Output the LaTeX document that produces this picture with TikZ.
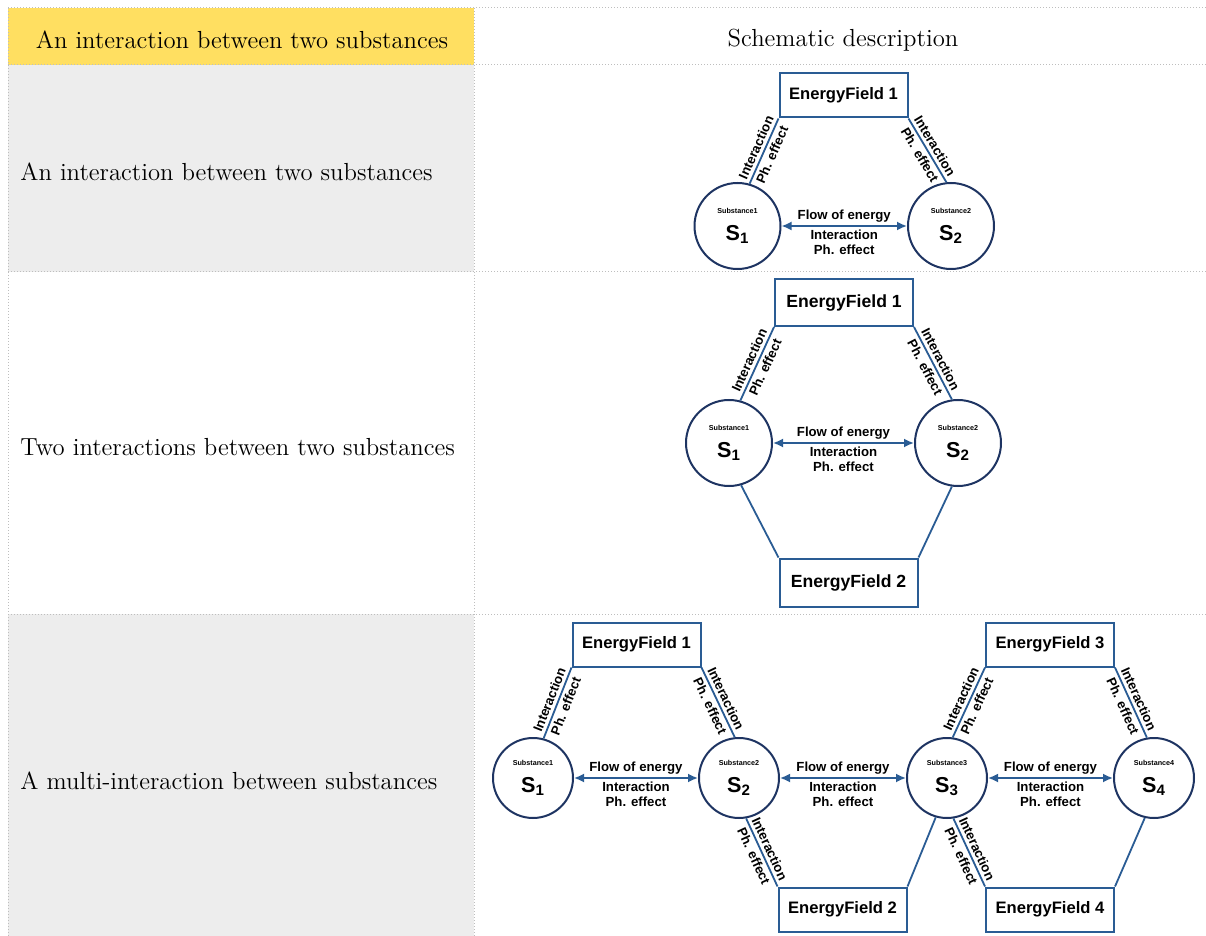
\documentclass[tikz,border=0pt]{standalone}
\usepackage{fontspec}
\usepackage{tikz}
\usetikzlibrary{arrows.meta}
\usetikzlibrary{positioning}
\newfontfamily\diagfont{Liberation Sans}
\definecolor{efblue}{RGB}{42,92,148}
\definecolor{subblue}{RGB}{30,52,98}
\definecolor{headyellow}{RGB}{255,223,97}
\definecolor{rowgray}{RGB}{237,237,237}
\definecolor{rulegray}{RGB}{190,190,190}

\tikzset{
	efbox/.style={draw=efblue, line width=1pt, fill=white, inner sep=0pt,
		minimum width=64pt, minimum height=22pt,
		font=\diagfont\bfseries\fontsize{8.3}{9}\selectfont},
	subst/.style={circle, draw=subblue, line width=1pt, fill=white, inner sep=0pt,
		minimum size=#1, align=center},
	conn/.style={draw=efblue, line width=0.9pt},
	flow/.style={draw=efblue, line width=0.9pt, {Latex[length=5pt,width=4.5pt]}-{Latex[length=5pt,width=4.5pt]}},
	lab/.style={font=\diagfont\bfseries\fontsize{6.6}{7.4}\selectfont, inner sep=1.5pt, align=center},
	celltext/.style={font=\fontsize{12.35}{14}\selectfont, inner sep=0pt},
	gridline/.style={rulegray, line width=0.5pt, densely dotted}
}
\newcommand{\subsname}[1]{{\fontsize{3.6}{4}\selectfont Substance#1}\\[1.5pt]{\fontsize{10.8}{11}\selectfont S\textsubscript{#1}}}

\begin{document}
\begin{tikzpicture}[x=0.5pt, y=-0.5pt, >=Latex]
			\useasboundingbox (0,0) rectangle (1206,936);
			
			% table cells
			\fill[headyellow] (8,8) rectangle (474,65);
			\fill[rowgray] (8,65) rectangle (474,272);
			\fill[rowgray] (8,614) rectangle (474,936);
			
			\draw[gridline] (8,8) -- (1206,8);
			\draw[gridline] (8,65) -- (1206,65);
			\draw[gridline] (8,272) -- (1206,272);
			\draw[gridline] (8,614) -- (1206,614);
			\draw[gridline] (8,8) -- (8,936);
			\draw[gridline] (474,8) -- (474,936);
			\fill[white] (684,66) rectangle (998,271);
			
			\node[celltext] (head1) at (242,40) {An interaction between two substances};
			\node[celltext] (head2) at (843,40) {Schematic description};
			\node[celltext, anchor=west] (row1) at (20,172) {An interaction between two substances};
			\node[celltext, anchor=west] (row2) at (20,447) {Two interactions between two substances};
			\node[celltext, anchor=west] (row3) at (20,781) {A multi-interaction between substances};
			
			% row 1
			\node[efbox] (a-ef1) at (843.5,95.5) {EnergyField 1};
			\node[subst=43pt, font=\diagfont\bfseries] (a-s1) at (737.5,226) {\subsname{1}};
			\node[subst=43pt, font=\diagfont\bfseries] (a-s2) at (951,226) {\subsname{2}};
			
			\draw[conn] (a-s1.74) -- (a-ef1.south west)
				node[lab, midway, sloped, above] {Interaction}
				node[lab, midway, sloped, below] {Ph. effect};
			\draw[conn] (a-ef1.south east) -- (a-s2.96)
				node[lab, midway, sloped, above] {Interaction}
				node[lab, midway, sloped, below] {Ph. effect};
			\draw[flow] (a-s1) -- (a-s2)
				node[lab, midway, above] {Flow of energy}
				node[lab, midway, below] {Interaction\\Ph. effect};
			
			% row 2
			\node[efbox, minimum width=69pt, minimum height=23.5pt, font=\diagfont\bfseries\fontsize{8.8}{9}\selectfont] (b-ef1) at (844,302.5) {EnergyField 1};
			\node[efbox, minimum width=69pt, minimum height=24pt, font=\diagfont\bfseries\fontsize{8.8}{9}\selectfont] (b-ef2) at (848.5,582.5) {EnergyField 2};
			\node[subst=43pt, font=\diagfont\bfseries] (b-s1) at (729,443) {\subsname{1}};
			\node[subst=43pt, font=\diagfont\bfseries] (b-s2) at (958,443) {\subsname{2}};
			
			\draw[conn] (b-s1.75) -- (b-ef1.south west)
				node[lab, midway, sloped, above] {Interaction}
				node[lab, midway, sloped, below] {Ph. effect};
			\draw[conn] (b-ef1.south east) -- (b-s2.98)
				node[lab, midway, sloped, above] {Interaction}
				node[lab, midway, sloped, below] {Ph. effect};
			\draw[conn] (b-s1.-74) -- (b-ef2.north west);
			\draw[conn] (b-s2.-98) -- (b-ef2.north east);
			\draw[flow] (b-s1) -- (b-s2)
				node[lab, midway, above] {Flow of energy}
				node[lab, midway, below] {Interaction\\Ph. effect};
			
			% row 3
			\node[efbox] (c-ef1) at (636.5,644.5) {EnergyField 1};
			\node[efbox] (c-ef2) at (842.5,909.5) {EnergyField 2};
			\node[efbox] (c-ef3) at (1050,644.5) {EnergyField 3};
			\node[efbox] (c-ef4) at (1050,909.5) {EnergyField 4};
			\node[subst=40pt, font=\diagfont\bfseries] (c-s1) at (533,778) {\subsname{1}};
			\node[subst=40pt, font=\diagfont\bfseries] (c-s2) at (739,778) {\subsname{2}};
			\node[subst=40pt, font=\diagfont\bfseries] (c-s3) at (947,778) {\subsname{3}};
			\node[subst=40pt, font=\diagfont\bfseries] (c-s4) at (1154,778) {\subsname{4}};
			
			\draw[conn] (c-s1.75) -- (c-ef1.south west)
				node[lab, midway, sloped, above] {Interaction}
				node[lab, midway, sloped, below] {Ph. effect};
			\draw[conn] (c-ef1.south east) -- (c-s2.96)
				node[lab, midway, sloped, above] {Interaction}
				node[lab, midway, sloped, below] {Ph. effect};
			\draw[conn] (c-s2.-80) -- (c-ef2.north west)
				node[lab, midway, sloped, above] {Interaction}
				node[lab, midway, sloped, below] {Ph. effect};
			\draw[conn] (c-s3.-106) -- (c-ef2.north east);
			\draw[conn] (c-s3.82) -- (c-ef3.south west)
				node[lab, midway, sloped, above] {Interaction}
				node[lab, midway, sloped, below] {Ph. effect};
			\draw[conn] (c-ef3.south east) -- (c-s4.100)
				node[lab, midway, sloped, above] {Interaction}
				node[lab, midway, sloped, below] {Ph. effect};
			\draw[conn] (c-s3.-81) -- (c-ef4.north west)
				node[lab, midway, sloped, above] {Interaction}
				node[lab, midway, sloped, below] {Ph. effect};
			\draw[conn] (c-s4.-103) -- (c-ef4.north east);
			
			\draw[flow] (c-s1) -- (c-s2)
				node[lab, midway, above] {Flow of energy}
				node[lab, midway, below] {Interaction\\Ph. effect};
			\draw[flow] (c-s2) -- (c-s3)
				node[lab, midway, above] {Flow of energy}
				node[lab, midway, below] {Interaction\\Ph. effect};
			\draw[flow] (c-s3) -- (c-s4)
				node[lab, midway, above] {Flow of energy}
				node[lab, midway, below] {Interaction\\Ph. effect};
		\end{tikzpicture}
\end{document}
